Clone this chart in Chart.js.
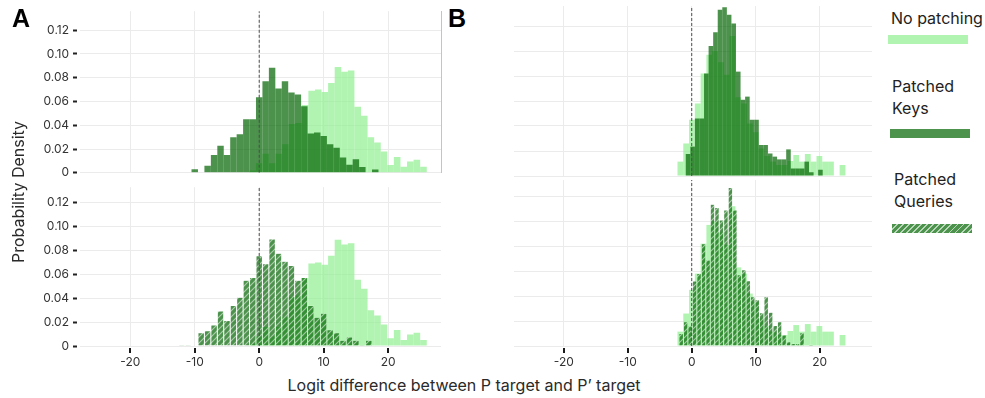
<!DOCTYPE html>
<html>
<head>
<meta charset="utf-8">
<script src="https://cdn.jsdelivr.net/npm/chart.js@4.4.1/dist/chart.umd.min.js"></script>
<style>
  body { margin: 0; background: #fff; font-family: Inter, sans-serif; color: #222; }
  #wrap { position: relative; width: 985px; height: 398px; overflow: hidden; }
  canvas { position: absolute; }
  .t { position: absolute; line-height: 1; white-space: nowrap; }
  .tag { font-family: "Liberation Sans", Arial, sans-serif; font-weight: bold; font-size: 25px; color: #000; }
  .leg { font-size: 16px; left: 891px; }
  .sw { position: absolute; width: 80px; height: 9px; }
</style>
</head>
<body>
<div id="wrap">
  <canvas id="tl" width="445" height="184" style="left:0;top:0"></canvas>
  <canvas id="bl" width="445" height="194" style="left:0;top:176px"></canvas>
  <canvas id="tr" width="366" height="184" style="left:510px;top:0"></canvas>
  <canvas id="br" width="366" height="194" style="left:510px;top:176px"></canvas>

  <div class="t tag" style="left:12px;top:6px">A</div>
  <div class="t tag" style="left:448px;top:6px">B</div>
  <div class="t" style="left:18px;top:192px;font-size:16px;color:#2a2a2a;transform:translate(-50%,-50%) rotate(-90deg)">Probability Density</div>
  <div class="t" style="left:464px;top:377px;font-size:16px;color:#2a2a2a;transform:translateX(-50%)">Logit difference between P target and P’ target</div>

  <div class="t leg" style="top:10px">No patching</div>
  <div class="sw" style="left:888px;top:35px;background:rgb(177,243,177)"></div>
  <div class="t leg" style="top:78px;left:892px">Patched</div>
  <div class="t leg" style="top:100px;left:892px">Keys</div>
  <div class="sw" style="left:890px;top:129px;background:rgb(77,147,77)"></div>
  <div class="t leg" style="top:171px;left:894px">Patched</div>
  <div class="t leg" style="top:193px;left:894px">Queries</div>
  <div class="sw" style="left:892px;top:224px;background:repeating-linear-gradient(135deg, rgb(77,147,77) 0 3px, rgb(185,216,185) 3px 4.3px)"></div>
</div>
<script>
// axes
const xTicks = [-20, -10, 0, 10, 20];
const yTicks = [0, 0.02, 0.04, 0.06, 0.08, 0.10, 0.12];
const yTickLabels = ['0', '0.02', '0.04', '0.06', '0.08', '0.10', '0.12'];
const xRange = [-27.8, 28.2];
const yMaxTop = 0.136;
const yMaxBottom = 0.133;

// panel A histograms: densities, and [first bin edge, bin width]
const noPatchA = [0.002, 0.008, 0.016, 0.008, 0.016, 0.024, 0.041, 0.042, 0.057, 0.069, 0.070, 0.068, 0.0755, 0.089,
  0.085, 0.086, 0.0555, 0.048, 0.030, 0.0256, 0.018, 0.0065, 0.0133, 0.005, 0.0096, 0.011, 0.005];
const noPatchABins = [-1.55, 1.02];
const keysA = [0.003, 0, 0.006, 0.015, 0.0227, 0.015, 0.030, 0.0325, 0.045, 0.045, 0.0635, 0.077, 0.0885, 0.071, 0.077,
  0.0675, 0.066, 0.056, 0.033, 0.034, 0.031, 0.024, 0.021, 0.0128, 0.0067, 0.0115, 0.0048, 0, 0.0027];
const keysABins = [-10.5, 1];
const queriesA = [0.001, 0.001, 0, 0.0112, 0.0128, 0.0176, 0.0293, 0.0213, 0.034, 0.0408, 0.055, 0.0573, 0.0755, 0.0688,
  0.0896, 0.0776, 0.071, 0.0675, 0.055, 0.0573, 0.034, 0.024, 0.0275, 0.0136, 0.0112, 0.0048, 0.0075, 0.0048, 0.001, 0.0048];
const queriesABins = [-12.5, 1];

// panel B
const noPatchB = [0.0115, 0.026, 0.045, 0.058, 0.082, 0.097, 0.10, 0.091, 0.081, 0.112, 0.063, 0.058, 0.042, 0.035, 0.022,
  0.016, 0.0115, 0.0088, 0.0088, 0.012, 0.0168, 0.0115, 0.0176, 0.0115, 0.016, 0.0115, 0.0115, 0, 0.0088];
const noPatchBBins = [-2.23, 0.906];
const keysB = [0.0176, 0.0235, 0.046, 0.046, 0.082, 0.104, 0.115, 0.133, 0.135, 0.129, 0.122, 0.0835, 0.061, 0.0635, 0.045,
  0.045, 0.0248, 0.0248, 0.018, 0.0155, 0.0133, 0.0133, 0.0213, 0.006, 0.006, 0.006, 0.0115, 0.003, 0, 0.005];
const keysBBins = [-0.93, 0.714];
const queriesB = [0.0101, 0.0195, 0.016, 0.052, 0.058, 0.082, 0.069, 0.1136, 0.111, 0.101, 0.109, 0.127, 0.109, 0.057, 0.061,
  0.0523, 0.0395, 0.037, 0.0267, 0.0395, 0.027, 0.0165, 0.0195, 0.0088, 0.0035, 0.002, 0.002, 0.0107, 0, 0.0013];
const queriesBBins = [-2.0, 0.70];

const lightGreen = 'rgba(144,238,144,0.7)';
const darkGreen = 'rgba(0,100,0,0.7)';
const gridColor = '#ebebeb';
const tickFont = { family: 'Inter', size: 12 };

function makeHatch() {
  const c = document.createElement('canvas');
  c.width = 6; c.height = 6;
  const g = c.getContext('2d');
  g.fillStyle = darkGreen;
  g.fillRect(0, 0, 6, 6);
  g.strokeStyle = 'rgba(255,255,255,0.55)';
  g.lineWidth = 1.1;
  g.beginPath();
  g.moveTo(0, 6); g.lineTo(6, 0);
  g.moveTo(-1, 1); g.lineTo(1, -1);
  g.moveTo(5, 7); g.lineTo(7, 5);
  g.stroke();
  return g.createPattern(c, 'repeat');
}
const hatch = makeHatch();

// short dark tick marks under the bottom x axes, with a small gap below the plot
const xTickMarks = {
  id: 'xTickMarks',
  afterDraw(chart, args, opts) {
    if (!opts.show) return;
    const sc = chart.scales.x;
    const ctx = chart.ctx;
    ctx.save();
    ctx.fillStyle = '#1a1a1a';
    xTicks.forEach(v => {
      const px = Math.round(sc.getPixelForValue(v));
      ctx.fillRect(px - 1, sc.top + 2, 2, 5);
    });
    ctx.restore();
  }
};

function hist(values, bins) {
  return values.map((v, i) => ({ x: bins[0] + (i + 0.5) * bins[1], y: v }));
}

function bars(values, bins, color, axis, order, extra) {
  return Object.assign({
    type: 'bar', data: hist(values, bins), xAxisID: axis, yAxisID: 'y',
    backgroundColor: color, borderWidth: 0, inflateAmount: 0, grouped: false,
    barPercentage: 1, categoryPercentage: 1, order: order
  }, extra || {});
}

const queryStyle = {
  borderColor: 'rgba(255,255,255,0.45)',
  borderWidth: { left: 0.5, right: 0.5, top: 0.5, bottom: 0 }
};

function zeroLine(yMax) {
  return {
    type: 'line', data: [{ x: 0, y: 0 }, { x: 0, y: yMax }], xAxisID: 'x', yAxisID: 'y',
    borderColor: '#4d4d4d', borderWidth: 1, borderDash: [3, 2], pointRadius: 0, fill: false, order: 0
  };
}

function xAxis(bottom) {
  return {
    type: 'linear', min: xRange[0], max: xRange[1], offset: false,
    afterBuildTicks: ax => { ax.ticks = xTicks.map(v => ({ value: v })); },
    afterFit: ax => { ax.height = bottom ? 24 : 0; },
    border: { display: false },
    grid: { color: gridColor, offset: false, drawTicks: bottom, tickLength: 7, tickColor: 'rgba(0,0,0,0)' },
    ticks: { display: bottom, padding: 2, color: '#333', font: tickFont, maxRotation: 0 }
  };
}

function yAxis(left, yMax) {
  return {
    type: 'linear', min: 0, max: yMax,
    afterBuildTicks: ax => { ax.ticks = yTicks.map(v => ({ value: v })); },
    afterFit: ax => { ax.width = left ? 80 : 0; },
    border: { display: false },
    grid: { color: gridColor, drawTicks: left, tickLength: 7, tickColor: '#222', tickWidth: 2, tickBorderDash: [4, 3] },
    ticks: { display: left, padding: 4, color: '#333', font: tickFont, callback: (v, i) => yTickLabels[i] }
  };
}

function panel(id, opts) {
  const scales = {
    x: xAxis(opts.bottom),
    x2: { type: 'linear', display: false, min: xRange[0], max: xRange[1], offset: false },
    y: yAxis(opts.left, opts.yMax)
  };
  if (opts.rightLine) {
    scales.yR = {
      type: 'linear', position: 'right', display: true,
      afterFit: ax => { ax.width = 0; },
      grid: { drawOnChartArea: false, drawTicks: false },
      ticks: { display: false },
      border: { display: true, color: '#c4c4c4', width: 1 }
    };
  }
  new Chart(document.getElementById(id), {
    type: 'bar',
    data: { datasets: opts.datasets },
    plugins: [xTickMarks],
    options: {
      responsive: false,
      animation: false,
      layout: { padding: opts.padding },
      plugins: { legend: { display: false }, tooltip: { enabled: false }, xTickMarks: { show: opts.bottom } },
      scales: scales
    }
  });
}

panel('tl', {
  left: true, bottom: false, yMax: yMaxTop, rightLine: true,
  padding: { left: 0, right: 4, top: 6, bottom: 8 },
  datasets: [
    zeroLine(yMaxTop),
    bars(keysA, keysABins, darkGreen, 'x2', 1),
    bars(noPatchA, noPatchABins, lightGreen, 'x', 2)
  ]
});

panel('bl', {
  left: true, bottom: true, yMax: yMaxBottom,
  padding: { left: 0, right: 4, top: 4, bottom: 0 },
  datasets: [
    zeroLine(yMaxBottom),
    bars(queriesA, queriesABins, hatch, 'x2', 1, queryStyle),
    bars(noPatchA, noPatchABins, lightGreen, 'x', 2)
  ]
});

panel('tr', {
  left: false, bottom: false, yMax: yMaxTop,
  padding: { left: 4, right: 4, top: 6, bottom: 8 },
  datasets: [
    zeroLine(yMaxTop),
    bars(keysB, keysBBins, darkGreen, 'x2', 1),
    bars(noPatchB, noPatchBBins, lightGreen, 'x', 2)
  ]
});

panel('br', {
  left: false, bottom: true, yMax: yMaxBottom,
  padding: { left: 4, right: 4, top: 4, bottom: 0 },
  datasets: [
    zeroLine(yMaxBottom),
    bars(queriesB, queriesBBins, hatch, 'x2', 1, queryStyle),
    bars(noPatchB, noPatchBBins, lightGreen, 'x', 2)
  ]
});
</script>
</body>
</html>
